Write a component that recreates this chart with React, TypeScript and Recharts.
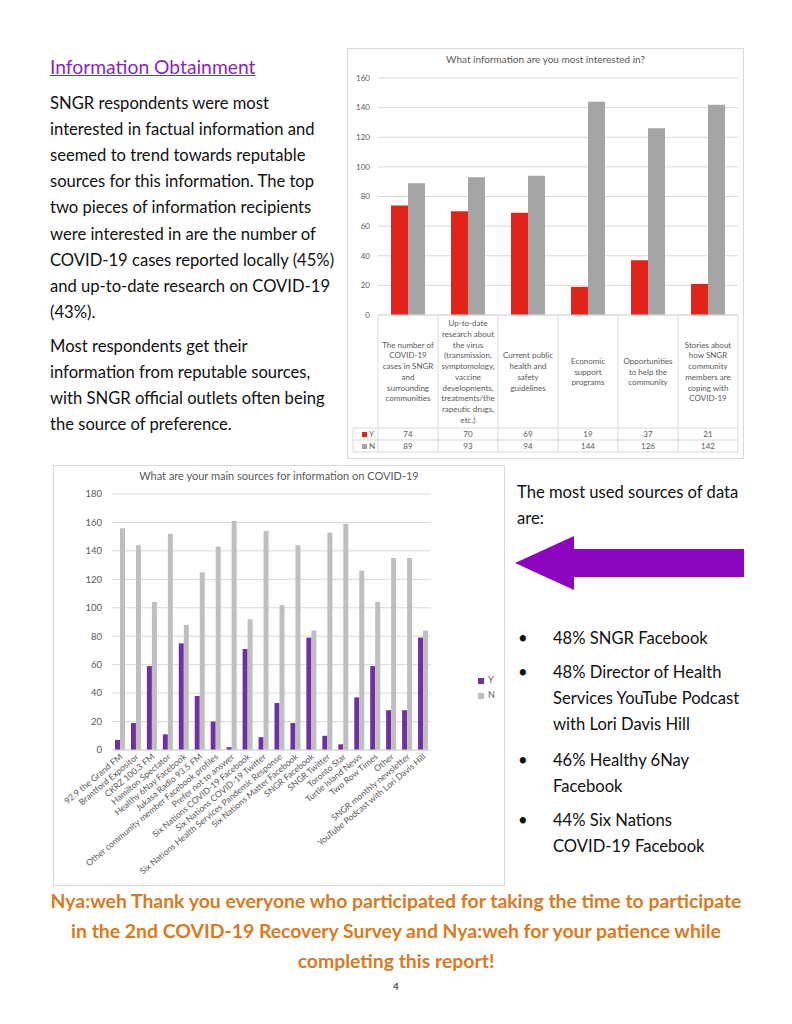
import React from 'react';
import { BarChart, Bar, XAxis, YAxis, CartesianGrid, Legend } from 'recharts';

// Chart 1: What information are you most interested in?
const INFO_LABELS: string[][] = [
  ['The number of', 'COVID-19', 'cases in SNGR', 'and', 'surrounding', 'communities'],
  ['Up-to-date', 'research about', 'the virus', '(transmission,', 'symptomology,', 'vaccine', 'developments,', 'treatments/the', 'rapeutic drugs,', 'etc.)'],
  ['Current public', 'health and', 'safety', 'guidelines'],
  ['Economic', 'support', 'programs'],
  ['Opportunities', 'to help the', 'community'],
  ['Stories about', 'how SNGR', 'community', 'members are', 'coping with', 'COVID-19'],
];
const INFO_Y = [74, 70, 69, 19, 37, 21];
const INFO_N = [89, 93, 94, 144, 126, 142];
const INFO_TICKS = [0, 20, 40, 60, 80, 100, 120, 140, 160];

// Chart 2: What are your main sources for information on COVID-19
const SOURCES = [
  '92.9 the Grand FM',
  'Brantford Expositor',
  'CKRZ 100.3 FM',
  'Hamilton Spectator',
  'Healthy 6Nay Facebook',
  'Jukasa Radio 93.5 FM',
  'Other community member Facebook profiles',
  'Prefer not to answer',
  'Six Nations COVID-19 Facebook',
  'Six Nations COVID-19 Twitter',
  'Six Nations Health Services Pandemic Response',
  'Six Nations Matter Facebook',
  'SNGR Facebook',
  'SNGR Twitter',
  'Toronto Star',
  'Turtle Island News',
  'Two Row Times',
  'Other',
  'SNGR monthly newsletter',
  'YouTube Podcast with Lori Davis Hill',
];
const SOURCES_Y = [7, 19, 59, 11, 75, 38, 20, 2, 71, 9, 33, 19, 79, 10, 4, 37, 59, 28, 28, 79];
const SOURCES_N = [156, 144, 104, 152, 88, 125, 143, 161, 92, 154, 102, 144, 84, 153, 159, 126, 104, 135, 135, 84];
const SOURCES_TICKS = [0, 20, 40, 60, 80, 100, 120, 140, 160, 180];

const FONT = 'Lato, "Open Sans", sans-serif';
const AXIS_GREY = '#595959';
const GRID = '#d9d9d9';

const infoData = INFO_LABELS.map((lines, i) => ({ name: lines.join(' '), Y: INFO_Y[i], N: INFO_N[i] }));
const sourceData = SOURCES.map((name, i) => ({ name, Y: SOURCES_Y[i], N: SOURCES_N[i] }));

// draws one column of the Excel-style data table under the first chart
const InfoTableTick = (props: any) => {
  const { x, y, index } = props;
  const half = 30;
  const lines = INFO_LABELS[index];
  const lh = 10.7;
  const cellH = 113;
  const first = y + cellH / 2 - ((lines.length - 1) * lh) / 2;
  const last = index === INFO_LABELS.length - 1;
  const left = index === 0 ? x - half - 25 : x - half;
  return (
    <g fontFamily={FONT} fontSize={8} fill={AXIS_GREY}>
      <line x1={x - half} x2={x - half} y1={y} y2={y + 137} stroke={GRID} />
      {last && <line x1={x + half} x2={x + half} y1={y} y2={y + 137} stroke={GRID} />}
      <line x1={left} x2={x + half} y1={y + 113} y2={y + 113} stroke={GRID} />
      <line x1={left} x2={x + half} y1={y + 125} y2={y + 125} stroke={GRID} />
      <line x1={left} x2={x + half} y1={y + 137} y2={y + 137} stroke={GRID} />
      {lines.map((t, i) => (
        <text key={i} x={x} y={first + i * lh} textAnchor="middle" dominantBaseline="central">{t}</text>
      ))}
      <text x={x} y={y + 119} textAnchor="middle" dominantBaseline="central">{INFO_Y[index]}</text>
      <text x={x} y={y + 131} textAnchor="middle" dominantBaseline="central">{INFO_N[index]}</text>
      {index === 0 && (
        <g>
          <line x1={left} x2={left} y1={y + 113} y2={y + 137} stroke={GRID} />
          <rect x={x - 46} y={y + 117} width={5} height={5} fill="#e2231a" />
          <text x={x - 39} y={y + 119} dominantBaseline="central">Y</text>
          <rect x={x - 46} y={y + 129} width={5} height={5} fill="#a5a5a5" />
          <text x={x - 39} y={y + 131} dominantBaseline="central">N</text>
        </g>
      )}
    </g>
  );
};

const SourceTick = (props: any) => {
  const { x, y, payload } = props;
  return (
    <g transform={`translate(${x + 1},${y + 5})`}>
      <text transform="rotate(-40)" textAnchor="end" dominantBaseline="central" fontFamily={FONT} fontSize={8.7} fill={AXIS_GREY}>
        {payload.value}
      </text>
    </g>
  );
};

const line = (top: number, left: number, text: string, extra: React.CSSProperties = {}) => (
  <div key={`${top}-${left}`} style={{ position: 'absolute', top, left, lineHeight: '26px', whiteSpace: 'nowrap', ...extra }}>{text}</div>
);

const para1 = [
  'SNGR respondents were most',
  'interested in factual information and',
  'seemed to trend towards reputable',
  'sources for this information. The top',
  'two pieces of information recipients',
  'were interested in are the number of',
  'COVID-19 cases reported locally (45%)',
  'and up-to-date research on COVID-19',
  '(43%).',
];
const para2 = [
  'Most respondents get their',
  'information from reputable sources,',
  'with SNGR official outlets often being',
  'the source of preference.',
];
const bullets: { top: number; lines: string[] }[] = [
  { top: 625, lines: ['48% SNGR Facebook'] },
  { top: 659, lines: ['48% Director of Health', 'Services YouTube Podcast', 'with Lori Davis Hill'] },
  { top: 747, lines: ['46% Healthy 6Nay', 'Facebook'] },
  { top: 807, lines: ['44% Six Nations', 'COVID-19 Facebook'] },
];

export default function App() {
  return (
    <div style={{ position: 'absolute', left: 0, top: 0, width: 792, height: 1024, background: '#fff', fontFamily: FONT, fontSize: 16.6, color: '#111', overflow: 'hidden' }}>
      <div style={{ position: 'absolute', top: 54, left: 50, fontSize: 19.3, color: '#8b1fc4', textDecoration: 'underline', whiteSpace: 'nowrap', lineHeight: '26px' }}>
        Information Obtainment
      </div>
      {para1.map((t, i) => line(90 + i * 26.1, 50, t))}
      {para2.map((t, i) => line(333 + i * 26, 50, t))}

      {/* chart 1 */}
      <div style={{ position: 'absolute', left: 347, top: 48, width: 395, height: 409, border: `1px solid ${GRID}` }}>
        <div style={{ position: 'absolute', top: 4, left: 0, width: 395, textAlign: 'center', fontSize: 10, color: AXIS_GREY }}>
          What information are you most interested in?
        </div>
        <BarChart width={395} height={409} data={infoData} margin={{ top: 29, right: 5, left: 0, bottom: 0 }} barGap={0} barSize={17}>
          <CartesianGrid vertical={false} stroke={GRID} />
          <XAxis dataKey="name" height={143} axisLine={{ stroke: GRID }} tickLine={false} tickSize={0} tickMargin={0} interval={0} tick={<InfoTableTick />} />
          <YAxis width={30} domain={[0, 160]} ticks={INFO_TICKS} axisLine={false} tickLine={false} tickMargin={2} tick={{ fontSize: 8, fill: AXIS_GREY, fontFamily: FONT }} />
          <Bar dataKey="Y" fill="#e2231a" isAnimationActive={false} />
          <Bar dataKey="N" fill="#a5a5a5" isAnimationActive={false} />
        </BarChart>
      </div>

      {/* chart 2 */}
      <div style={{ position: 'absolute', left: 53, top: 465, width: 450, height: 419, border: `1px solid ${GRID}` }}>
        <div style={{ position: 'absolute', top: 3, left: 0, width: 450, textAlign: 'center', fontSize: 11, color: AXIS_GREY }}>
          What are your main sources for information on COVID-19
        </div>
        <BarChart width={450} height={419} data={sourceData} margin={{ top: 28, right: 43, left: 0, bottom: 0 }} barGap={0} barSize={5}>
          <CartesianGrid vertical={false} stroke={GRID} />
          <XAxis dataKey="name" height={135} axisLine={{ stroke: GRID }} tickLine={false} tickSize={0} tickMargin={0} interval={0} tick={<SourceTick />} />
          <YAxis width={58} domain={[0, 180]} ticks={SOURCES_TICKS} axisLine={false} tickLine={false} tickMargin={4} tick={{ fontSize: 9.5, fill: AXIS_GREY, fontFamily: FONT }} />
          <Legend layout="vertical" align="right" verticalAlign="top" iconType="square" iconSize={6}
            itemSorter={(item: any) => (item.value === 'Y' ? 0 : 1)}
            formatter={(value: string) => <span style={{ color: AXIS_GREY }}>{value}</span>}
            wrapperStyle={{ left: 424, top: 206, width: 30, fontSize: 9, fontFamily: FONT, lineHeight: '15px' }} />
          <Bar dataKey="Y" fill="#7030a0" isAnimationActive={false} />
          <Bar dataKey="N" fill="#bfbfbf" isAnimationActive={false} />
        </BarChart>
      </div>

      {line(479, 517, 'The most used sources of data')}
      {line(505, 517, 'are:')}
      <svg style={{ position: 'absolute', left: 0, top: 0 }} width={792} height={1024} pointerEvents="none">
        <polygon points="515,563 574,536 574,549 744,549 744,577 574,577 574,590" fill="#8c06c0" />
      </svg>
      {bullets.map((b, i) => (
        <div key={i}>
          {line(b.top, 518, '•')}
          {b.lines.map((t, j) => line(b.top + j * 26, 553, t))}
        </div>
      ))}

      <div style={{ position: 'absolute', top: 886, left: 0, width: 792, textAlign: 'center', fontWeight: 700, fontSize: 19.4, lineHeight: '30px', color: '#d97a1c', whiteSpace: 'nowrap' }}>
        Nya:weh Thank you everyone who participated for taking the time to participate<br />
        in the 2nd COVID-19 Recovery Survey and Nya:weh for your patience while<br />
        completing this report!
      </div>
      <div style={{ position: 'absolute', top: 980, left: 0, width: 792, textAlign: 'center', fontSize: 10, color: '#111' }}>4</div>
    </div>
  );
}
